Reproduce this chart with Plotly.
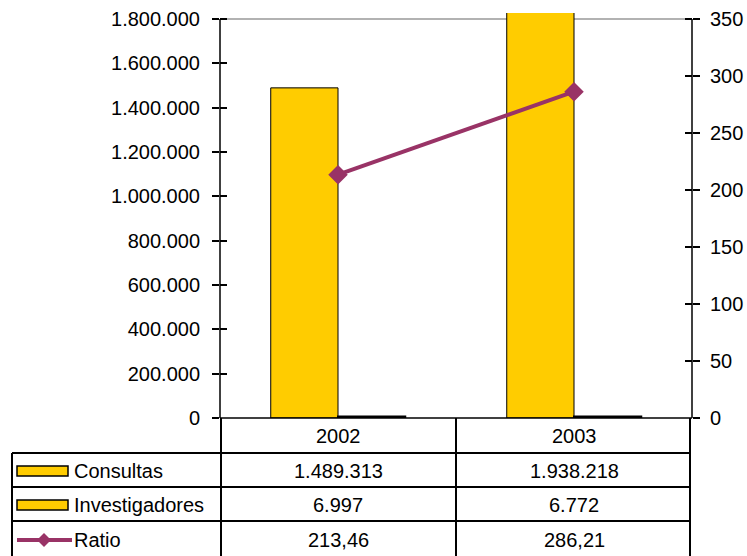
import plotly.graph_objects as go

years = ["2002", "2003"]
consultas = [1489313, 1938218]
investigadores = [6997, 6772]
ratio = [213.46, 286.21]
left_ticks = [0, 200000, 400000, 600000, 800000, 1000000, 1200000, 1400000, 1600000, 1800000]
right_ticks = [0, 50, 100, 150, 200, 250, 300, 350]

YELLOW = "#FFCC00"
MAROON = "#993366"
FONT = "Liberation Sans, Arial, sans-serif"
FS = 20

W, H = 747, 556
L, R, T, B = 220, 692, 13, 418          # plot area in pixels
PW, PH = R - L, B - T
LEFT_MAX, RIGHT_MAX = 1800000, 350
extra = (19 - T) / (B - 19)             # plot area reaches a little above top tick

def px(x):
    return (x - L) / PW

def py(y):
    return (B - y) / PH

def fmt_int(v):
    return f"{v:,}".replace(",", ".")

def fmt_dec(v):
    return f"{v:.2f}".replace(".", ",")

fig = go.Figure()
fig.add_trace(go.Bar(x=years, y=consultas, name="Consultas", marker=dict(color=YELLOW, line=dict(color="black", width=1)), yaxis="y"))
fig.add_trace(go.Bar(x=years, y=investigadores, name="Investigadores", marker=dict(color=YELLOW, line=dict(color="black", width=2)), yaxis="y"))
fig.add_trace(go.Scatter(x=years, y=ratio, name="Ratio", mode="lines+markers", line=dict(color=MAROON, width=4),
                         marker=dict(symbol="diamond", size=15, color=MAROON), yaxis="y2"))

ymax = LEFT_MAX * (1 + extra)
y2max = RIGHT_MAX * (1 + extra)
tickfont = dict(family=FONT, size=FS, color="black")

fig.update_layout(
    width=W, height=H, margin=dict(l=L, r=W - R, t=T, b=H - B, autoexpand=False),
    paper_bgcolor="white", plot_bgcolor="white",
    separators=",.", showlegend=False,
    barmode="group", bargap=0.43, bargroupgap=0,
    xaxis=dict(type="category", range=[-0.5, len(years) - 0.5], showticklabels=False, ticks="",
               showgrid=False, zeroline=False, showline=False, automargin=False),
    yaxis=dict(range=[0, ymax], tickvals=left_ticks, tickformat=",.0f", ticks="outside", ticklen=7,
               tickcolor="black", tickwidth=1.5, showgrid=False, zeroline=False, showline=False,
               tickfont=tickfont, ticklabelstandoff=8, automargin=False),
    yaxis2=dict(range=[0, y2max], tickvals=right_ticks, overlaying="y", side="right", ticks="outside",
                ticklen=7, tickcolor="black", tickwidth=1.5, showgrid=False, zeroline=False, showline=False,
                tickfont=tickfont, ticklabelstandoff=6, automargin=False),
    yaxis3=dict(range=[0, ymax], tickvals=left_ticks, overlaying="y", side="left", ticks="inside",
                ticklen=7, tickcolor="black", tickwidth=1.5, showticklabels=False, showgrid=False,
                zeroline=False, showline=False, automargin=False),
    yaxis4=dict(range=[0, y2max], tickvals=right_ticks, overlaying="y", side="right", ticks="inside",
                ticklen=7, tickcolor="black", tickwidth=1.5, showticklabels=False, showgrid=False,
                zeroline=False, showline=False, automargin=False),
)
# dummy traces to activate overlay axes
fig.add_trace(go.Scatter(x=years, y=[None, None], yaxis="y3", showlegend=False, hoverinfo="skip"))
fig.add_trace(go.Scatter(x=years, y=[None, None], yaxis="y4", showlegend=False, hoverinfo="skip"))

shapes = []
# top border (gray), beneath the bars
shapes.append(dict(type="line", xref="paper", yref="y", x0=0, x1=1, y0=LEFT_MAX, y1=LEFT_MAX,
                   line=dict(color="#999999", width=1.5), layer="below"))
# axes
shapes.append(dict(type="line", xref="paper", yref="y", x0=0, x1=0, y0=0, y1=LEFT_MAX, line=dict(color="black", width=1.5)))
shapes.append(dict(type="line", xref="paper", yref="y", x0=1, x1=1, y0=0, y1=LEFT_MAX, line=dict(color="black", width=1.5)))
shapes.append(dict(type="line", xref="paper", yref="paper", x0=0, x1=1, y0=0, y1=0, line=dict(color="black", width=1.5)))

# data table grid
row_lines = [453, 487, 521]
col_lines = [221, 456, 690]
for yl in row_lines:
    shapes.append(dict(type="line", xref="paper", yref="paper", x0=px(12), x1=px(690), y0=py(yl), y1=py(yl),
                       line=dict(color="black", width=2)))
for xl in col_lines:
    shapes.append(dict(type="line", xref="paper", yref="paper", x0=px(xl), x1=px(xl), y0=py(418), y1=py(560),
                       line=dict(color="black", width=2)))
shapes.append(dict(type="line", xref="paper", yref="paper", x0=px(12), x1=px(12), y0=py(453), y1=py(560),
                   line=dict(color="black", width=2)))

# legend keys
for yc in [471, 505]:
    shapes.append(dict(type="rect", xref="paper", yref="paper", x0=px(17), x1=px(68), y0=py(yc - 5), y1=py(yc + 5),
                       fillcolor=YELLOW, line=dict(color="black", width=1.5)))
shapes.append(dict(type="line", xref="paper", yref="paper", x0=px(17), x1=px(72), y0=py(540), y1=py(540),
                   line=dict(color=MAROON, width=4)))
cx, cy, d = 44, 540, 7
path = f"M {px(cx - d)} {py(cy)} L {px(cx)} {py(cy - d)} L {px(cx + d)} {py(cy)} L {px(cx)} {py(cy + d)} Z"
shapes.append(dict(type="path", xref="paper", yref="paper", path=path, fillcolor=MAROON, line=dict(color=MAROON, width=0)))
fig.update_layout(shapes=shapes)

ann = []
txtfont = dict(family=FONT, size=FS, color="black")
row_centers = {"head": 436, "Consultas": 471, "Investigadores": 505, "Ratio": 540}
for i, yr in enumerate(years):
    for key, txt in [("head", yr), ("Consultas", fmt_int(consultas[i])),
                     ("Investigadores", fmt_int(investigadores[i])), ("Ratio", fmt_dec(ratio[i]))]:
        ann.append(dict(x=i, xref="x", y=py(row_centers[key]), yref="paper", text=txt, showarrow=False,
                        xanchor="center", yanchor="middle", font=txtfont))
for name in ["Consultas", "Investigadores", "Ratio"]:
    ann.append(dict(x=px(72), xref="paper", y=py(row_centers[name]), yref="paper", text=name, showarrow=False,
                    xanchor="left", yanchor="middle", font=txtfont))
fig.update_layout(annotations=ann)

fig.write_html("out.html", config={"displayModeBar": False},
               post_script="document.body.style.margin='0';document.body.style.padding='0';")
